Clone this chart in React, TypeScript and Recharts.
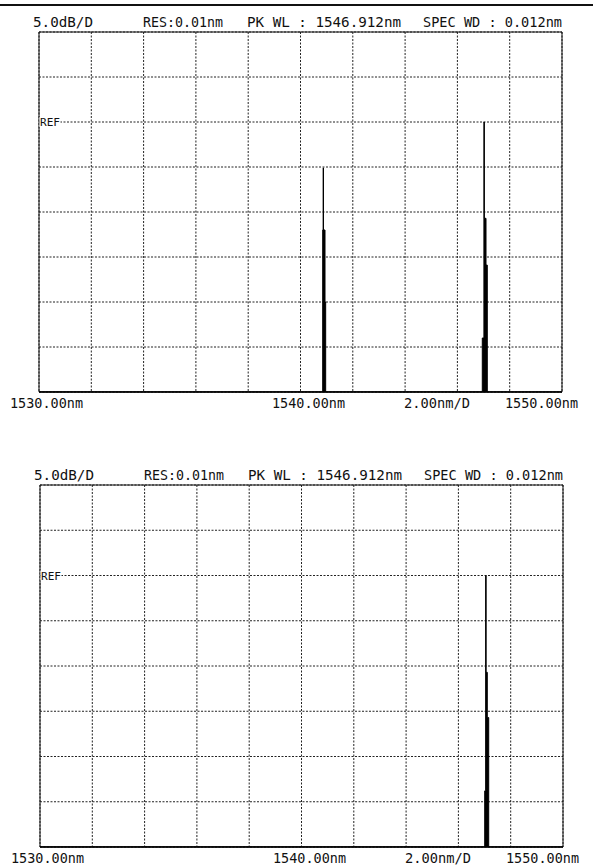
import React from "react";
import { AreaChart, Area, XAxis, YAxis, CartesianGrid, ReferenceArea, ReferenceLine } from "recharts";

// wavelength grid (2 nm/div) and level grid (5 dB/div)
const WL_TICKS = [1530, 1532, 1534, 1536, 1538, 1540, 1542, 1544, 1546, 1548, 1550];
const WL_LABELS = [1530, 1540, 1550];
const DB_TICKS = [-40, -35, -30, -25, -20, -15, -10, -5, 0];
const REF_DB = -10;

const HEADER = ["5.0dB/D", "RES:0.01nm", "PK WL : 1546.912nm", "SPEC WD : 0.012nm"];
const SPAN_LABEL = "2.00nm/D";

// traces: [wavelength nm, level dB]
const TRACE_TOP: [number, number][] = [
  [1530, -40],
  [1540.849, -40], [1540.849, -22.0], [1540.866, -22.0], [1540.866, -15.1],
  [1540.88, -15.1], [1540.88, -22.0], [1540.937, -22.0], [1540.937, -30.0],
  [1540.963, -30.0], [1540.963, -40],
  [1546.952, -40], [1546.952, -34.0], [1547.014, -34.0], [1547.014, -10.0],
  [1547.031, -10.0], [1547.031, -20.7], [1547.094, -20.7], [1547.094, -25.9],
  [1547.143, -25.9], [1547.143, -40],
  [1550, -40],
];

const TRACE_BOTTOM: [number, number][] = [
  [1530, -40],
  [1547.006, -40], [1547.006, -33.8], [1547.042, -33.8], [1547.042, -10.0],
  [1547.06, -10.0], [1547.06, -20.7], [1547.105, -20.7], [1547.105, -25.7],
  [1547.159, -25.7], [1547.159, -40],
  [1550, -40],
];

const FONT = "'DejaVu Sans Mono', monospace";

const LABEL_SHIFT: Record<number, number> = { 1530: -29, 1540: -28.5, 1550: -57 };

const WlTick = ({ x, y, payload }: any) => {
  if (!WL_LABELS.includes(payload.value)) return <g />;
  return (
    <text
      x={x + LABEL_SHIFT[payload.value]}
      y={y + 8}
      fontFamily={FONT}
      fontSize={13.5}
      fill="#111"
      textLength={73}
      lengthAdjust="spacingAndGlyphs"
    >
      {`${payload.value.toFixed(2)}nm`}
    </text>
  );
};

const RefLabel = ({ viewBox }: any) => (
  <g>
    <rect x={viewBox.x + 0.5} y={viewBox.y - 5} width={21} height={10} fill="#fff" />
    <text x={viewBox.x + 1} y={viewBox.y + 4} fontFamily={FONT} fontSize={10} fill="#111" textLength={20} lengthAdjust="spacingAndGlyphs">
      REF
    </text>
  </g>
);

const Spectrum = ({ trace, top, height, margin }: any) => {
  const data = trace.map(([wl, dB]: [number, number]) => ({ wl, dB }));
  return (
    <div style={{ position: "absolute", left: 0, top }}>
      <AreaChart width={595} height={height} data={data} margin={margin}>
        <CartesianGrid stroke="#222" strokeDasharray="2 1.5" />
        <XAxis
          dataKey="wl"
          type="number"
          domain={[1530, 1550]}
          ticks={WL_TICKS}
          interval={0}
          height={16}
          tickLine={false}
          axisLine={{ stroke: "#000", strokeWidth: 1.5 }}
          tick={<WlTick />}
          allowDataOverflow
        />
        <YAxis hide type="number" domain={[-40, 0]} ticks={DB_TICKS} allowDataOverflow />
        <ReferenceLine y={REF_DB} stroke="none" label={<RefLabel />} />
        <ReferenceArea x1={1530} x2={1550} y1={-40} y2={0} fill="none" stroke="#111" strokeWidth={1} />
        <Area
          type="linear"
          dataKey="dB"
          stroke="#000"
          strokeWidth={1}
          fill="#000"
          fillOpacity={1}
          baseValue={-40}
          dot={false}
          activeDot={false}
          isAnimationActive={false}
        />
      </AreaChart>
    </div>
  );
};

const HEADER_X = [33, 143, 247, 423];
const HEADER_W = [60, 80, 154, 139];

const Overlay = () => (
  <svg width={595} height={866} style={{ position: "absolute", left: 0, top: 0, pointerEvents: "none" }}>
    <rect x={0} y={4} width={593} height={2} fill="#111" />
    {[0, 453].map((dy, k) => (
      <g key={k} transform={`translate(${k}, ${dy})`}>
        {HEADER.map((t, i) => (
          <text key={t} x={HEADER_X[i]} y={27} fontFamily={FONT} fontSize={13.5} fill="#111" textLength={HEADER_W[i]} lengthAdjust="spacingAndGlyphs">
            {t}
          </text>
        ))}
        <text x={404} y={408 + k * 2} fontFamily={FONT} fontSize={13.5} fill="#111" textLength={66} lengthAdjust="spacingAndGlyphs">
          {SPAN_LABEL}
        </text>
      </g>
    ))}
  </svg>
);

export default function App() {
  return (
    <div style={{ position: "relative", width: 595, height: 866, background: "#fff", overflow: "hidden" }}>
      <style>{"body{margin:0}"}</style>
      <Spectrum trace={TRACE_TOP} top={0} height={430} margin={{ top: 32, left: 39, right: 33, bottom: 22 }} />
      <Spectrum trace={TRACE_BOTTOM} top={450} height={416} margin={{ top: 35, left: 40, right: 32, bottom: 3 }} />
      <Overlay />
    </div>
  );
}
